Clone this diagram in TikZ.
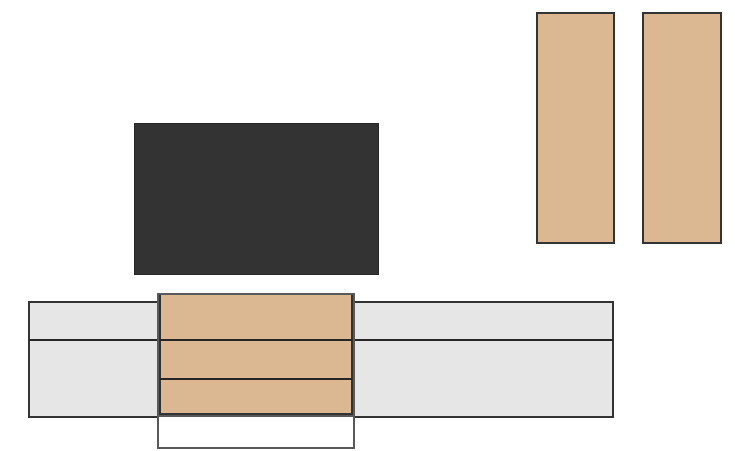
\documentclass[tikz,border=0pt]{standalone}
\usepackage{tikz}

\definecolor{woodtan}{HTML}{DBB891}
\definecolor{benchgrey}{HTML}{E6E6E6}
\definecolor{screendark}{HTML}{333333}

\tikzset{
  wood/.style={fill=woodtan, draw=black!80, line width=1.2pt},
  bench/.style={fill=benchgrey, draw=black!80, line width=1.1pt},
  frame/.style={draw=black!65, line width=1.6pt},
}

\begin{document}
\begin{tikzpicture}[x=1pt, y=-1pt]
            \useasboundingbox (0,0) rectangle (735,450);
            % screen
            \filldraw[fill=screendark, draw=black!85, line width=1pt]
                (134,123) rectangle (378,274);

            % tall panels
            \filldraw[wood] (537,13) rectangle (614,243);
            \filldraw[wood] (643,13) rectangle (721,243);

            % bench
            \filldraw[bench] (29,302) rectangle (613,417);
            \draw[line width=1.3pt, black!85] (29,340) -- (613,340);

            % cabinet
            \fill[white] (158,294) rectangle (354,448);
            \filldraw[wood] (160,294) rectangle (352,414);
            \draw[line width=1.3pt, black!85] (160,340) -- (352,340);
            \draw[line width=1.3pt, black!85] (160,379) -- (352,379);
            \draw[frame] (158,294) rectangle (354,448);
            \draw[frame] (158,416) -- (354,416);
        \end{tikzpicture}
\end{document}
